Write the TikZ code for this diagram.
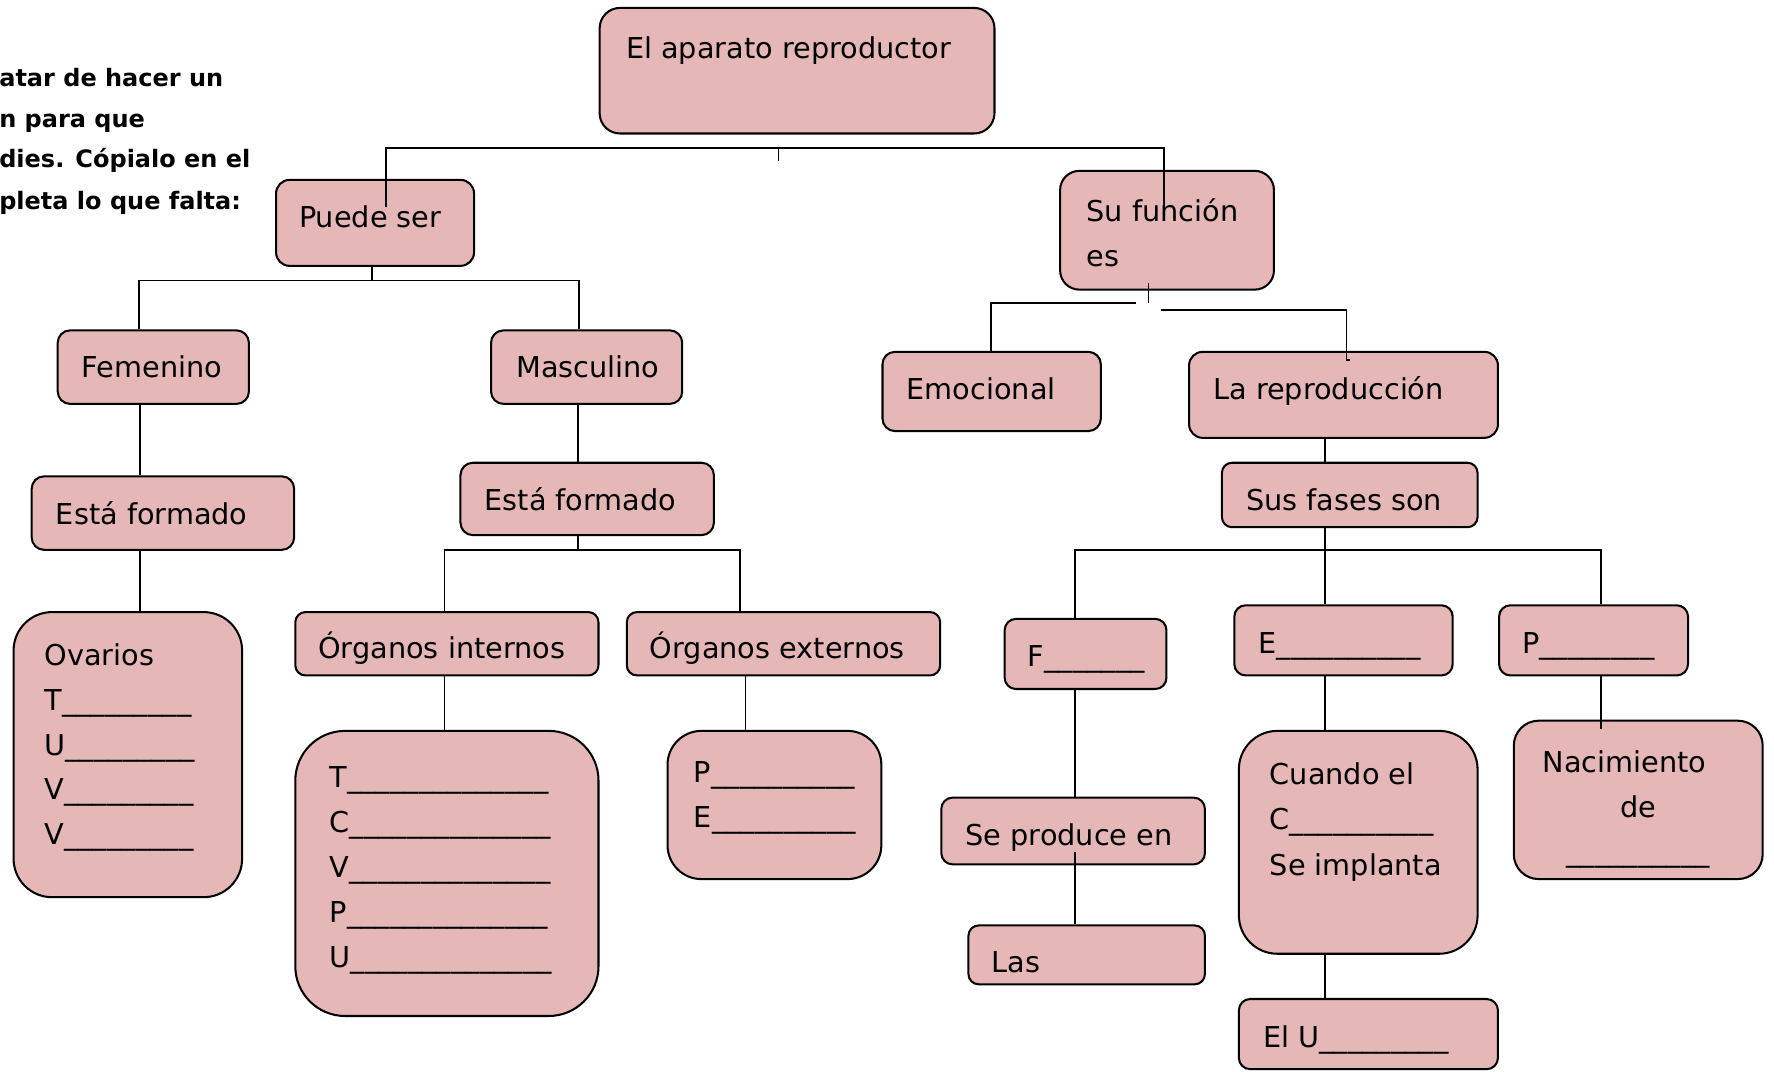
\documentclass[tikz,border=0pt]{standalone}
\usepackage{fontspec}
\setmainfont{DejaVu Sans}
\usetikzlibrary{fit}

\definecolor{rosa}{HTML}{E5B8B7}

\tikzset{
  caja/.style={draw=black, line width=0.9pt, fill=rosa, inner sep=0pt, rounded corners=#1},
  caja/.default=5pt,
  linea/.style={draw=black, line width=0.75pt},
  texto/.style={anchor=mid west, inner sep=0pt, yshift=-2pt, font=\fontsize{12.7}{15}\selectfont},
  textoc/.style={texto, anchor=mid},
  aviso/.style={anchor=mid west, inner sep=0pt, yshift=-1.5pt, font=\fontsize{10.6}{13}\selectfont\bfseries}
}

\newcommand{\rayas}[1]{\foreach \k in {1,...,#1}{\_}}

\begin{document}
\begin{tikzpicture}[x=0.5pt,y=0.5pt,yscale=-1]
\useasboundingbox (0,0) rectangle (1568,947);

% Text Node
\node[aviso] (aviso1) at (-1,68) {atar de hacer un};
\node[aviso] (aviso2) at (-1,104) {n para que};
\node[aviso] (aviso3) at (-1,140) {dies. Cópialo en el};
\node[aviso] (aviso4) at (-1,177) {pleta lo que falta:};

% Boxes
\node[caja=9pt, fit={(530,7) (879,118)}] (aparato) {};
\node[caja=6pt, fit={(244,159) (419,235)}] (puede) {};
\node[caja=8.5pt, fit={(937,151) (1126,256)}] (funcion) {};
\node[caja=5.5pt, fit={(51,292) (220,357)}] (femenino) {};
\node[caja=5.5pt, fit={(434,292) (603,357)}] (masculino) {};
\node[caja=5.5pt, fit={(780,311) (973,381)}] (emocional) {};
\node[caja=6pt, fit={(1051,311) (1324,387)}] (reproduccion) {};
\node[caja=5.5pt, fit={(28,421) (260,486)}] (formadoF) {};
\node[caja=5.5pt, fit={(407,409) (631,473)}] (formadoM) {};
\node[caja=4.5pt, fit={(1080,409) (1306,466)}] (fases) {};
\node[caja=17pt, fit={(12,541) (214,793)}] (ovarios) {};
\node[caja=4.5pt, fit={(261,541) (529,597)}] (internos) {};
\node[caja=4.5pt, fit={(554,541) (831,597)}] (externos) {};
\node[caja=22pt, fit={(261,646) (529,898)}] (listaI) {};
\node[caja=15pt, fit={(590,646) (779,777)}] (listaE) {};
\node[caja=5pt, fit={(888,547) (1031,609)}] (faseF) {};
\node[caja=5pt, fit={(1091,535) (1284,597)}] (faseE) {};
\node[caja=5pt, fit={(1325,535) (1492,597)}] (faseP) {};
\node[caja=5pt, fit={(832,705) (1065,764)}] (produce) {};
\node[caja=4.5pt, fit={(856,818) (1065,870)}] (las) {};
\node[caja=17pt, fit={(1095,646) (1306,843)}] (cuando) {};
\node[caja=5pt, fit={(1095,883) (1324,945)}] (utero) {};
\node[caja=11pt, fit={(1338,637) (1558,777)}] (nacimiento) {};

% Text Node
\node[texto] (t-aparato) at (553,42) {El aparato reproductor};
\node[texto] (t-puede) at (264,192) {Puede ser};
\node[texto] (t-funcion1) at (960,186) {Su función};
\node[texto] (t-funcion2) at (960,226) {es};
\node[texto] (t-femenino) at (72,324) {Femenino};
\node[texto] (t-masculino) at (456,324) {Masculino};
\node[texto] (t-emocional) at (801,344) {Emocional};
\node[texto] (t-reproduccion) at (1072,344) {La reproducción};
\node[texto] (t-formadoF) at (49,454) {Está formado};
\node[texto] (t-formadoM) at (428,442) {Está formado};
\node[texto] (t-fases) at (1101,442) {Sus fases son};
\node[texto] (t-ovarios) at (39,579) {Ovarios};
\foreach \letra [count=\i] in {T,U,V,V}
  \node[texto] (t-ov\i) at (39,{579+39.5*\i}) {\letra\rayas{9}};
\node[texto] (t-internos) at (281,573) {Órganos internos};
\node[texto] (t-externos) at (574,573) {Órganos externos};
\foreach \letra [count=\i from 0] in {T,C,V,P,U}
  \node[texto] (t-in\i) at (291,{687+39.75*\i}) {\letra\rayas{14}};
\node[texto] (t-ex1) at (613,682) {P\rayas{10}};
\node[texto] (t-ex2) at (613,722) {E\rayas{10}};
\node[texto] (t-faseF) at (908,580) {F\rayas{7}};
\node[texto] (t-faseE) at (1112,568) {E\rayas{10}};
\node[texto] (t-faseP) at (1345,568) {P\rayas{8}};
\node[texto] (t-produce) at (853,738) {Se produce en};
\node[texto] (t-las) at (876,850) {Las};
\node[texto] (t-cuando1) at (1122,684) {Cuando el};
\node[texto] (t-cuando2) at (1122,724) {C\rayas{10}};
\node[texto] (t-cuando3) at (1122,764) {Se implanta};
\node[texto] (t-utero) at (1116,916) {El U\rayas{9}};
\node[textoc] (t-nac1) at (1436,673) {Nacimiento};
\node[textoc] (t-nac2) at (1448,713) {de};
\node[textoc] (t-nac3) at (1448,752) {\rayas{10}};

% Connection
\coordinate (rama) at (688,131);
\coordinate (entraP) at (341,183);
\coordinate (entraF) at (1029,190);
\draw[linea] (entraP) |- (rama) -| (entraF);
\draw[linea] (rama) -- ++(0,11);

\coordinate (jpuede) at (329,248);
\draw[linea] (puede.south -| jpuede) -- (jpuede);
\draw[linea] (femenino.north -| 123,0) |- (jpuede) -| (masculino.north -| 512,0);
\draw[linea] (femenino.south -| 124,0) -- (formadoF.north -| 124,0);
\draw[linea] (formadoF.south -| 124,0) -- (ovarios.north -| 124,0);
\draw[linea] (masculino.south -| 511,0) -- (formadoM.north -| 511,0);

\coordinate (jformado) at (511,486);
\draw[linea] (formadoM.south -| jformado) -- (jformado);
\draw[linea] (internos.north -| 393,0) |- (jformado) -| (externos.north -| 654,0);
\draw[linea] (internos.south -| 393,0) -- (listaI.north -| 393,0);
\draw[linea] (externos.south -| 659,0) -- (listaE.north -| 659,0);

% Connection
\coordinate (fsale) at (1015,250);
\coordinate (fizq) at (1004,268);
\coordinate (fder) at (1026,274);
\coordinate (rentra) at (1190,318);
\draw[linea] (fsale) -- ++(0,18);
\draw[linea] (emocional.north -| 876,0) |- (fizq);
\draw[linea] (fder) -| (rentra) -- ++(3,0);
\draw[linea] (reproduccion.south -| 1171,0) -- (fases.north -| 1171,0);

\coordinate (jfases) at (1171,486);
\draw[linea] (fases.south -| jfases) -- (jfases);
\draw[linea] (faseF.north -| 950,0) |- (jfases) -| (faseP.north -| 1415,0);
\draw[linea] (jfases) -- (faseE.north -| jfases);
\draw[linea] (faseF.south -| 950,0) -- (produce.north -| 950,0);

\coordinate (pentra) at (950,753);
\draw[linea] (pentra) -- (las.north -| pentra);
\draw[linea] (faseE.south -| 1171,0) -- (cuando.north -| 1171,0);
\draw[linea] (cuando.south -| 1171,0) -- (utero.north -| 1171,0);

\coordinate (nentra) at (1415,644);
\draw[linea] (faseP.south -| nentra) -- (nentra);

\end{tikzpicture}
\end{document}
